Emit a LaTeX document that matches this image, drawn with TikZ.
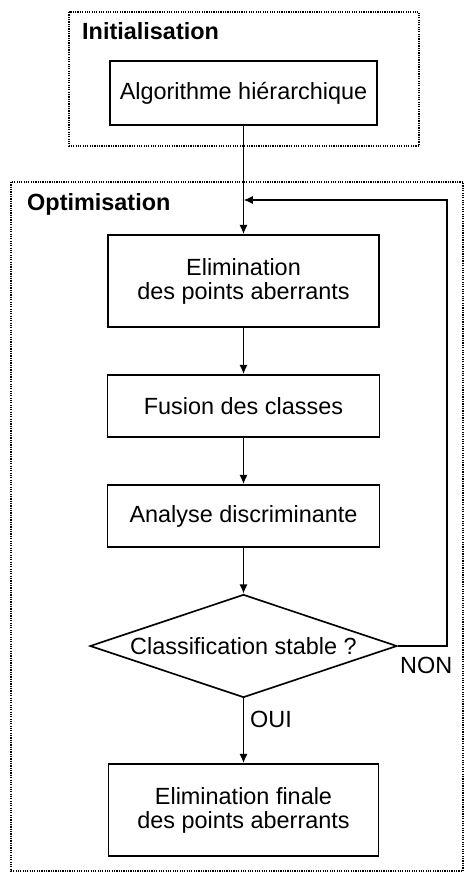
\documentclass[tikz,border=0pt]{standalone}
\usepackage{fontspec}
\setmainfont{Liberation Sans}
\usepackage{tikz}
\usetikzlibrary{arrows.meta}
\usetikzlibrary{shapes.geometric}

\tikzset{
  etape/.style={draw,line width=1.4pt,align=center,inner sep=0pt},
  cadre/.style={densely dotted,line width=1pt},
  titre/.style={font=\fontsize{20}{20.5}\selectfont\bfseries,inner sep=0pt,anchor=base west},
  fleche/.style={line width=1.4pt,-{Latex[length=8pt,width=7pt]}}
}

\begin{document}
\begin{tikzpicture}[x=0.03cm,y=-0.03cm,font=\fontsize{20}{20.5}\selectfont]
    \useasboundingbox (0,0) rectangle (465,873);

    %Frames
    \draw[cadre] (69,12) rectangle (419,146);
    \draw[cadre] (11,182) rectangle (463,871);
    \node[titre] (tinit) at (82,40) {Initialisation};
    \node[titre] (topt) at (27,210) {Optimisation};

    %Steps
    \node[etape,minimum width=8.0cm,minimum height=1.92cm] (algo) at (243.5,93) {Algorithme hiérarchique};
    \node[etape,minimum width=8.13cm,minimum height=2.76cm] (elim) at (243.5,281) {Elimination\\des points aberrants};
    \node[etape,minimum width=8.16cm,minimum height=1.86cm] (fusion) at (243.5,406) {Fusion des classes};
    \node[etape,minimum width=8.16cm,minimum height=1.86cm] (analyse) at (243.5,516) {Analyse discriminante};
    \node[etape,diamond,aspect=3,minimum width=9.21cm,minimum height=3.09cm] (test) at (243.5,646) {Classification stable ?};
    \node[etape,minimum width=8.1cm,minimum height=2.76cm] (final) at (243.5,810) {Elimination finale\\des points aberrants};

    \coordinate (retour) at (447,646);
    \coordinate (entree) at (243.5,200);

    \node[inner sep=0pt,anchor=base west] (oui) at (250,727) {OUI};
    \node[inner sep=0pt,anchor=base west] (non) at (400,673) {NON};

    %Arrows
    \draw[fleche] (algo) -- (elim);
    \draw[fleche] (elim) -- (fusion);
    \draw[fleche] (fusion) -- (analyse);
    \draw[fleche] (analyse) -- (test);
    \draw[fleche] (test) -- (final);
    \draw[fleche] (test.east) -- (retour) |- (entree);

\end{tikzpicture}
\end{document}
